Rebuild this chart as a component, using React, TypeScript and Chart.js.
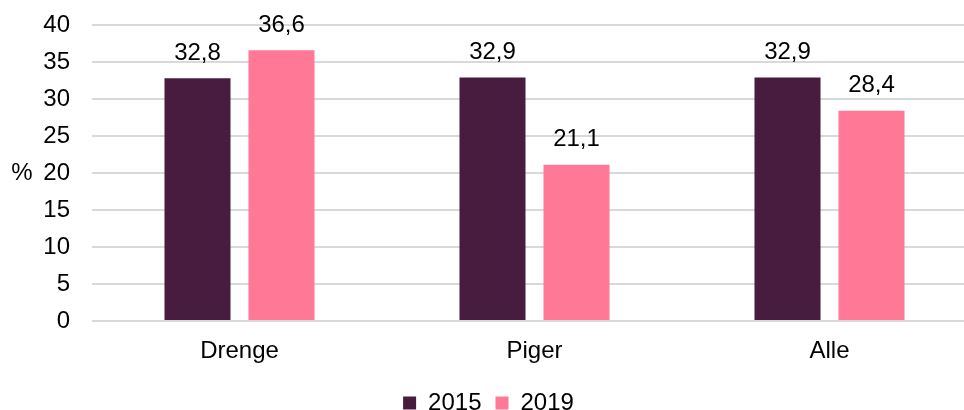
import React, { useEffect, useRef } from "react";
import { Chart, registerables } from "chart.js";

Chart.register(...registerables);

const categories = ["Drenge", "Piger", "Alle"];
const series2015 = [32.8, 32.9, 32.9];
const series2019 = [36.6, 21.1, 28.4];
const seriesLabels = ["2015", "2019"];
const yTicks = [0, 5, 10, 15, 20, 25, 30, 35, 40];
const yTitle = "%";

const FONT = "'Liberation Sans', Arial, sans-serif";
const FS = 24;

const dataLabelPlugin = {
  id: "dataLabels",
  afterDatasetsDraw(chart: any) {
    const ctx = chart.ctx;
    ctx.save();
    ctx.font = `${FS}px ${FONT}`;
    ctx.fillStyle = "#000";
    ctx.textAlign = "center";
    ctx.textBaseline = "middle";
    chart.data.datasets.forEach((ds: any, di: number) => {
      const meta = chart.getDatasetMeta(di);
      meta.data.forEach((bar: any, i: number) => {
        const v = ds.data[i];
        ctx.fillText(String(v).replace(".", ","), bar.x, bar.y - 25);
      });
    });
    // y axis title, horizontal
    const ys = chart.scales.y;
    ctx.fillText(yTitle, 22, (ys.top + ys.bottom) / 2);
    ctx.restore();
  },
};

export default function App() {
  const ref = useRef<HTMLCanvasElement>(null);
  useEffect(() => {
    const chart = new Chart(ref.current!, {
      type: "bar",
      data: {
        labels: categories,
        datasets: [
          { label: seriesLabels[0], data: series2015, backgroundColor: "#471C3F" },
          { label: seriesLabels[1], data: series2019, backgroundColor: "#FF7895" },
        ],
      },
      options: {
        animation: false,
        responsive: false,
        maintainAspectRatio: false,
        layout: { padding: { top: 25, left: 0, right: 0, bottom: 0 } },
        datasets: {
          bar: { categoryPercentage: 0.5695, barPercentage: 0.786 },
        },
        plugins: {
          legend: {
            position: "bottom",
            labels: {
              boxWidth: 13,
              boxHeight: 13,
              padding: 14,
              color: "#000",
              font: { family: FONT, size: FS },
            },
          },
          tooltip: { enabled: false },
        },
        scales: {
          x: {
            grid: { display: false, drawTicks: false },
            border: { display: false },
            ticks: { color: "#000", font: { family: FONT, size: FS }, padding: 16 },
            afterFit: (s: any) => {
              s.height = 56;
              s.paddingLeft = 0;
              s.paddingRight = 0;
            },
          },
          y: {
            min: 0,
            max: 40,
            afterBuildTicks: (s: any) => {
              s.ticks = yTicks.map((v) => ({ value: v }));
            },
            grid: { color: "#D9D9D9", lineWidth: 2, drawTicks: false },
            border: { display: false },
            ticks: { color: "#000", font: { family: FONT, size: FS }, padding: 22 },
            afterFit: (s: any) => {
              s.width = 92;
              s.paddingTop = 0;
              s.paddingBottom = 0;
            },
          },
        },
      },
      plugins: [dataLabelPlugin],
    });
    return () => chart.destroy();
  }, []);
  return (
    <div
      style={{
        position: "fixed",
        left: 0,
        top: 0,
        width: 964,
        height: 410,
        overflow: "hidden",
        background: "#fff",
      }}
    >
      <canvas ref={ref} width={977} height={425} style={{ width: 977, height: 425 }} />
    </div>
  );
}
